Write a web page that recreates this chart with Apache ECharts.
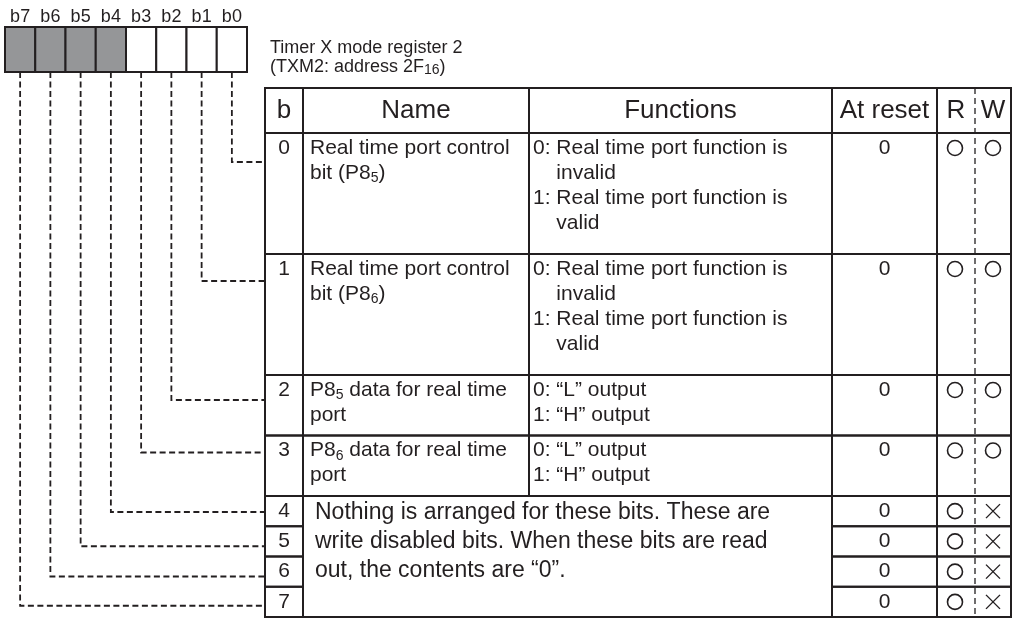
<!DOCTYPE html>
<html><head><meta charset="utf-8">
<script src="https://cdn.jsdelivr.net/npm/echarts@6/dist/echarts.min.js"></script>
<style>html,body{margin:0;padding:0;background:#fff}#c{width:1015px;height:619px}</style>
</head><body><div id="c"></div>
<script>
// ---------- data ----------
const bitLabels = ['b7', 'b6', 'b5', 'b4', 'b3', 'b2', 'b1', 'b0'];
const bitReserved = [true, true, true, true, false, false, false, false];
const titleLines = ['Timer X mode register 2', '(TXM2: address 2F{sub|16})'];
const headers = ['b', 'Name', 'Functions', 'At reset', 'R', 'W'];
const rowBits = ['0', '1', '2', '3', '4', '5', '6', '7'];
const rowNames = [
  'Real time port control\nbit (P8{sub|5})',
  'Real time port control\nbit (P8{sub|6})',
  'P8{sub|5} data for real time\nport',
  'P8{sub|6} data for real time\nport',
  null, null, null, null
];
const rowFunctions = [
  '0: Real time port function is\n    invalid\n1: Real time port function is\n    valid',
  '0: Real time port function is\n    invalid\n1: Real time port function is\n    valid',
  '0: “L” output\n1: “H” output',
  '0: “L” output\n1: “H” output',
  null, null, null, null
];
const sharedNote = 'Nothing is arranged for these bits. These are\nwrite disabled bits. When these bits are read\nout, the contents are “0”.';
const resetValues = ['0', '0', '0', '0', '0', '0', '0', '0'];
const readAccess = ['O', 'O', 'O', 'O', 'O', 'O', 'O', 'O'];
const writeAccess = ['O', 'O', 'O', 'O', 'X', 'X', 'X', 'X'];

// ---------- layout / style ----------
const INK = '#231f20';
const GRAY = '#959698';
const FONT = '"Liberation Sans", Arial, Helvetica, sans-serif';
const L = {
  boxLeft: 5, boxW: 30.25, boxTop: 27, boxBottom: 72, bitLabelY: 17,
  titleX: 270, titleY: [48, 67],
  cols: [265, 303, 529, 832, 937, 975, 1011],
  headTop: 88, headBottom: 133, lineUnit: 30.25,
  rowLines: [4, 4, 2, 2, 1, 1, 1, 1],
  connOffset: [29, 27, 25, 17, 16, 20, 20, 19],
  textLH: 25, firstLine: 15, noteLH: 29, noteFirst: 17
};
function rowGeom(r) {
  let top = L.headBottom;
  for (let k = 0; k < r; k++) top += L.rowLines[k] * L.lineUnit;
  return { top: top, bottom: top + L.rowLines[r] * L.lineUnit };
}
const subRich = { sub: { fontSize: 14, fontFamily: FONT, fill: INK, verticalAlign: 'bottom', lineHeight: 20 } };

function txt(pt, text, size, align, vAlign, extra) {
  return {
    type: 'text',
    style: Object.assign({
      x: pt[0], y: pt[1], text: text, fill: INK,
      fontSize: size, fontFamily: FONT, align: align, verticalAlign: vAlign
    }, extra || {})
  };
}
function rectEl(a, b, fill, lw) {
  return { type: 'rect', shape: { x: a[0], y: a[1], width: b[0] - a[0], height: b[1] - a[1] },
    style: { fill: fill, stroke: INK, lineWidth: lw } };
}

// bit boxes + connectors
function renderBits(params, api) {
  const i = api.value(0);
  const p = (x, y) => api.coord([x, y]);
  const x1 = L.boxLeft + i * L.boxW, x2 = x1 + L.boxW, cx = (x1 + x2) / 2;
  const row = 7 - i;
  const cy = rowGeom(row).top + L.connOffset[row];
  const a = p(cx, L.boxBottom), b = p(cx, cy), c = p(L.cols[0], cy);
  return { type: 'group', children: [
    { type: 'polyline', shape: { points: [a, b, c] },
      style: { fill: null, stroke: INK, lineWidth: 1.8, lineDash: [6, 3.5] } },
    rectEl(p(x1, L.boxTop), p(x2, L.boxBottom), bitReserved[i] ? GRAY : '#fff', 2),
    txt(p(cx, L.bitLabelY), bitLabels[i], 18, 'center', 'middle')
  ] };
}

// table rows
function renderRow(params, api) {
  const r = api.value(0);
  const g = rowGeom(r);
  const c = L.cols;
  const p = (x, y) => api.coord([x, y]);
  const ch = [];
  const hasOwn = rowNames[r] !== null;
  const cy = hasOwn ? g.top + L.firstLine : (g.top + g.bottom) / 2;
  ch.push(rectEl(p(c[0], g.top), p(c[1], g.bottom), 'none', 2));
  if (hasOwn) {
    ch.push(rectEl(p(c[1], g.top), p(c[2], g.bottom), 'none', 2));
    ch.push(rectEl(p(c[2], g.top), p(c[3], g.bottom), 'none', 2));
    ch.push(txt(p(c[1] + 7, cy - L.textLH / 2), rowNames[r], 21, 'left', 'top', { lineHeight: L.textLH, rich: subRich }));
    ch.push(txt(p(c[2] + 4, cy - L.textLH / 2), rowFunctions[r], 21, 'left', 'top', { lineHeight: L.textLH }));
  }
  ch.push(rectEl(p(c[3], g.top), p(c[4], g.bottom), 'none', 2));
  ch.push(rectEl(p(c[4], g.top), p(c[6], g.bottom), 'none', 2));
  ch.push(txt(p((c[0] + c[1]) / 2, cy), rowBits[r], 21, 'center', 'middle'));
  ch.push(txt(p((c[3] + c[4]) / 2, cy), resetValues[r], 21, 'center', 'middle'));
  const marks = [[readAccess[r], (c[4] + c[5]) / 2 - 1], [writeAccess[r], (c[5] + c[6]) / 2]];
  marks.forEach(function (m) {
    const o = p(m[1], cy);
    if (m[0] === 'O') {
      ch.push({ type: 'circle', shape: { cx: o[0], cy: o[1], r: 7.5 }, style: { fill: 'none', stroke: INK, lineWidth: 1.6 } });
    } else {
      const s = 7;
      ch.push({ type: 'line', shape: { x1: o[0] - s, y1: o[1] - s, x2: o[0] + s, y2: o[1] + s }, style: { stroke: INK, lineWidth: 1.4 } });
      ch.push({ type: 'line', shape: { x1: o[0] - s, y1: o[1] + s, x2: o[0] + s, y2: o[1] - s }, style: { stroke: INK, lineWidth: 1.4 } });
    }
  });
  return { type: 'group', children: ch };
}

// header, title, shared note, R/W divider
function renderStatic(params, api) {
  const p = (x, y) => api.coord([x, y]);
  const c = L.cols;
  const ch = [];
  const hy = (L.headTop + L.headBottom) / 2;
  const spans = [[c[0], c[1]], [c[1], c[2]], [c[2], c[3]], [c[3], c[4]], [c[4], c[5]], [c[5], c[6]]];
  [[0, 1], [1, 2], [2, 3], [3, 4], [4, 6]].forEach(function (s) {
    ch.push(rectEl(p(c[s[0]], L.headTop), p(c[s[1]], L.headBottom), 'none', 2));
  });
  headers.forEach(function (h, k) {
    ch.push(txt(p((spans[k][0] + spans[k][1]) / 2, hy), h, 26, 'center', 'middle'));
  });
  titleLines.forEach(function (t, k) {
    ch.push(txt(p(L.titleX, L.titleY[k]), t, 18, 'left', 'middle', { rich: subRich }));
  });
  const n0 = rowGeom(4), n1 = rowGeom(7);
  ch.push(rectEl(p(c[1], n0.top), p(c[3], n1.bottom), 'none', 2));
  ch.push(txt(p(c[1] + 12, n0.top + L.noteFirst - L.noteLH / 2), sharedNote, 23, 'left', 'top', { lineHeight: L.noteLH }));
  const d1 = p(c[5], L.headTop), d2 = p(c[5], n1.bottom);
  ch.push({ type: 'line', shape: { x1: d1[0], y1: d1[1], x2: d2[0], y2: d2[1] },
    style: { stroke: INK, lineWidth: 1.3, lineDash: [6, 4] } });
  ch.push(rectEl(p(c[0], L.headTop), p(c[6], n1.bottom), 'none', 2));
  return { type: 'group', children: ch };
}

const chart = echarts.init(document.getElementById('c'), null, { renderer: 'canvas' });
chart.setOption({
  animation: false,
  backgroundColor: '#fff',
  grid: { left: 0, right: 0, top: 0, bottom: 0 },
  xAxis: { type: 'value', min: 0, max: 1015, show: false },
  yAxis: { type: 'value', min: 0, max: 619, inverse: true, show: false },
  series: [
    { type: 'custom', silent: true, renderItem: renderRow, data: rowBits.map((b, i) => [i]) },
    { type: 'custom', silent: true, renderItem: renderStatic, data: [[0]] },
    { type: 'custom', silent: true, renderItem: renderBits, data: bitLabels.map((b, i) => [i]) }
  ]
});
</script>
</body></html>
